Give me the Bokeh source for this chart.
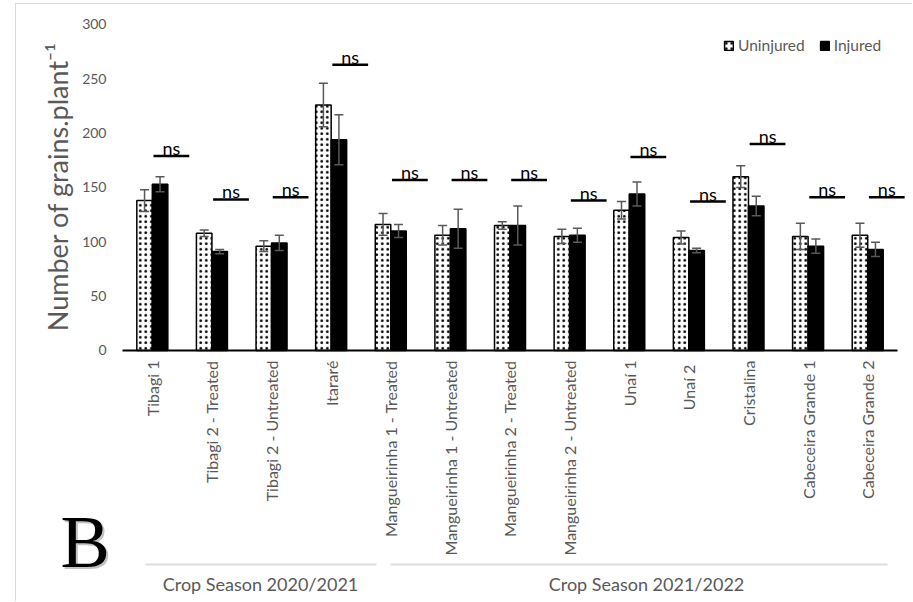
import math

from bokeh.core.properties import value
from bokeh.embed import file_html
from bokeh.models import (ColumnDataSource, FixedTicker, Label, PolyAnnotation,
                          Range1d, TeeHead, Whisker)
from bokeh.plotting import figure
from bokeh.resources import INLINE
from bokeh.transform import dodge

# ---- data -------------------------------------------------------------
sites = [
    "Tibagi 1", "Tibagi 2 - Treated", "Tibagi 2 - Untreated", "Itararé",
    "Mangueirinha 1 - Treated", "Mangueirinha 1 - Untreated",
    "Mangueirinha 2 - Treated", "Mangueirinha 2 - Untreated",
    "Unaí 1", "Unaí  2", "Cristalina", "Cabeceira Grande 1", "Cabeceira Grande 2",
]
uninjured = [138, 108, 96, 226, 116, 106, 115, 105, 129, 104, 160, 105, 106]
uninjured_err = [10, 3, 5, 20, 10, 9, 3.5, 6.5, 8, 6, 10, 12, 11]
injured = [153, 91, 99, 194, 110, 112, 115, 106, 144, 92, 133, 96, 93]
injured_err = [7, 2, 7, 23, 6, 18, 18, 6.5, 11, 2, 9, 6.5, 6.5]
# height of the significance bar above each pair, and its label
sig_level = [179, 139, 141, 263, 157, 157, 157, 138, 178, 137, 190, 141, 141]
sig_text = ["ns"] * 13
seasons = ["Crop Season 2020/2021", "Crop Season 2021/2022"]
y_ticks = [0, 50, 100, 150, 200, 250, 300]

# ---- styling ----------------------------------------------------------
FONT = "Lato"
GREY_TEXT = "#595959"
GREY_ERR = "#595959"
GREY_RULE = "#8c8c8c"

# each site sits on its own integer slot of the x scale
slot = list(range(len(sites)))

src = ColumnDataSource(dict(
    slot=slot,
    un=uninjured,
    un_lo=[v - e for v, e in zip(uninjured, uninjured_err)],
    un_hi=[v + e for v, e in zip(uninjured, uninjured_err)],
    inj=injured,
    inj_lo=[v - e for v, e in zip(injured, injured_err)],
    inj_hi=[v + e for v, e in zip(injured, injured_err)],
    sig=sig_level,
    sig_text=sig_text,
))

# The frame fills the whole canvas; both axes are pinned inside it so the
# panel letter, the axis title and the season brackets can share the frame.
p = figure(
    x_range=Range1d(-2.278, 12.768),
    y_range=Range1d(-231.9, 318.4),
    width=897, height=598,
    min_border_left=0, min_border_right=0,
    min_border_top=0, min_border_bottom=0,
    output_backend="svg", toolbar_location=None,
)
p.styles = {
    "margin-left": "15px", "margin-top": "3px",
    "border-left": "1px solid #d9d9d9", "border-top": "1px solid #d9d9d9",
}
p.outline_line_color = None
p.xgrid.visible = False
p.ygrid.visible = False

BAR_W = 0.26
OFF = 0.13

p.vbar(x=dodge("slot", -OFF), top="un", width=BAR_W,
       source=src, fill_color="white", line_color="black", line_width=1.5,
       hatch_pattern="dot", hatch_color="black", hatch_scale=5.5, hatch_weight=1,
       legend_label="Uninjured")
p.vbar(x=dodge("slot", OFF), top="inj", width=BAR_W,
       source=src, fill_color="black", line_color="black", line_width=1.5,
       legend_label="Injured")

for base_off, lo, hi in ((-OFF, "un_lo", "un_hi"), (OFF, "inj_lo", "inj_hi")):
    p.add_layout(Whisker(
        base=dodge("slot", base_off), lower=lo, upper=hi, source=src,
        line_color=GREY_ERR, line_width=1.5, level="overlay",
        upper_head=TeeHead(size=9, line_color=GREY_ERR, line_width=1.5),
        lower_head=TeeHead(size=9, line_color=GREY_ERR, line_width=1.5),
    ))

# significance bars with their "ns" label
p.segment(x0=dodge("slot", 0.02), x1=dodge("slot", 0.62),
          y0="sig", y1="sig", source=src, line_color="black", line_width=2.5)
p.text(x=dodge("slot", 0.32), y="sig", text="sig_text", source=src,
       text_font=value(FONT), text_font_size="18px", text_color="black",
       text_align="center", text_baseline="alphabetic", y_offset=-8)

# value axis, pinned at the left edge of the first slot
p.yaxis.fixed_location = -0.5
p.yaxis.ticker = FixedTicker(ticks=y_ticks)
p.yaxis.axis_line_color = None
p.yaxis.major_tick_line_color = None
p.yaxis.minor_tick_line_color = None
p.yaxis.major_tick_out = 0
p.yaxis.major_tick_in = 0
p.yaxis.major_label_standoff = 16
p.yaxis.major_label_text_font = FONT
p.yaxis.major_label_text_font_size = "14px"
p.yaxis.major_label_text_color = GREY_TEXT

# site axis, pinned at y = 0
p.xaxis.fixed_location = 0
p.xaxis.bounds = (-0.5, len(sites) - 0.5)
p.xaxis.ticker = FixedTicker(ticks=slot)
p.xaxis.major_label_overrides = {i: name for i, name in zip(slot, sites)}
p.xaxis.axis_line_color = "black"
p.xaxis.axis_line_width = 2
p.xaxis.major_tick_line_color = None
p.xaxis.minor_tick_line_color = None
p.xaxis.major_tick_out = 0
p.xaxis.major_tick_in = 0
p.xaxis.major_label_standoff = 10
p.xaxis.major_label_orientation = math.pi / 2
p.xaxis.major_label_text_font = FONT
p.xaxis.major_label_text_font_size = "16px"
p.xaxis.major_label_text_color = GREY_TEXT

# value-axis title (screen units measured from the frame's bottom-left)
p.add_layout(Label(x=41, y=416, x_units="screen", y_units="screen",
                   text="Number of grains.plant\u207b\u00b9", angle=math.pi / 2,
                   text_font=FONT, text_font_size="27px", text_color=GREY_TEXT,
                   text_align="center", text_baseline="alphabetic"))

# legend
lg = p.legend[0]
lg.location = (707, 548)
lg.orientation = "horizontal"
lg.margin = 0
lg.padding = 0
lg.spacing = 14
lg.border_line_color = None
lg.background_fill_alpha = 0
lg.glyph_width = 11
lg.glyph_height = 11
lg.label_height = 12
lg.label_standoff = 4
lg.label_text_font = FONT
lg.label_text_font_size = "15.5px"
lg.label_text_color = GREY_TEXT

# season brackets below the site labels
for xs in ([129, 360], [374, 871]):
    p.add_layout(PolyAnnotation(xs=xs, ys=[38, 38], xs_units="screen", ys_units="screen",
                                fill_alpha=0, line_color=GREY_RULE, line_width=2))
for name, cx in zip(seasons, [244, 630]):
    p.add_layout(Label(x=cx, y=19, x_units="screen", y_units="screen", text=name,
                       text_font=FONT, text_font_size="18px", text_color=GREY_TEXT,
                       text_align="center", text_baseline="alphabetic"))

# panel letter with its soft drop shadow
p.add_layout(Label(x=46, y=59, x_units="screen", y_units="screen", text="B",
                   text_font="Liberation Serif", text_font_size="74px",
                   text_color="#9a9a9a", text_alpha=0.6,
                   text_align="left", text_baseline="alphabetic"))
p.add_layout(Label(x=44, y=61, x_units="screen", y_units="screen", text="B",
                   text_font="Liberation Serif", text_font_size="74px", text_color="black",
                   text_align="left", text_baseline="alphabetic"))

open("out.html", "w").write(file_html(p, INLINE))
